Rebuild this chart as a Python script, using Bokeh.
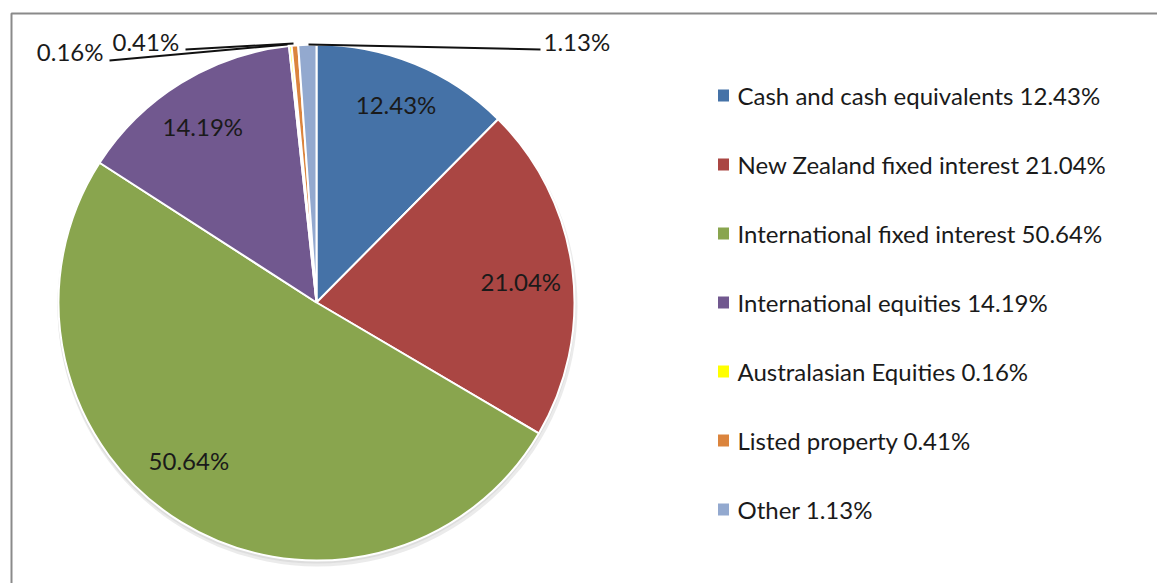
import numpy as np
from bokeh.plotting import figure
from bokeh.models import Range1d, ColumnDataSource
from bokeh.embed import file_html
from bokeh.resources import INLINE
from bokeh.core.properties import value

categories = ["Cash and cash equivalents", "New Zealand fixed interest",
              "International fixed interest", "International equities",
              "Australasian Equities ", "Listed property", "Other"]
shares = [12.43, 21.04, 50.64, 14.19, 0.16, 0.41, 1.13]
colors = ["#4572A7", "#AA4643", "#89A54E", "#71588F", "#FFFF00", "#DB843D", "#93A9CF"]

W, H = 1157, 583
FONT = "Lato"
FS = "24px"
TXT = "#1a1a1a"

def fy(y):
    return H - y

p = figure(width=W, height=H, x_range=Range1d(0, W), y_range=Range1d(0, H),
           output_backend="svg", toolbar_location=None, min_border=0,
           x_axis_location=None, y_axis_location=None)
p.grid.visible = False
p.outline_line_color = None
p.background_fill_color = "white"
p.border_fill_color = "white"

# chart area frame
p.line(x=[11, 11, W + 5], y=[-5, fy(13), fy(13)], line_color="#8a8a8a", line_width=2)

cx, cy, R = 316, fy(302), 258

sh = np.array(shares, dtype=float)
cum_end = np.cumsum(sh) / sh.sum()
cum_start = cum_end - sh / sh.sum()
start_angle = np.pi / 2 - 2 * np.pi * cum_end
end_angle = np.pi / 2 - 2 * np.pi * cum_start
mid = (start_angle + end_angle) / 2

src = ColumnDataSource(dict(start=start_angle, end=end_angle, color=colors,
                            cat=categories, share=shares))

# soft shadow
p.circle(x=cx + 1, y=cy - 4, radius=R + 2, fill_color="#bdbdbd", fill_alpha=0.3, line_color=None)
p.circle(x=cx, y=cy - 2, radius=R + 1, fill_color="#d0d0d0", fill_alpha=0.5, line_color=None)

p.wedge(x=cx, y=cy, radius=R, start_angle="start", end_angle="end",
        direction="anticlock", fill_color="color", line_color="white",
        line_width=2, source=src)

# inside labels for the large slices (best-fit nudges in screen px)
big = [i for i in range(len(shares)) if shares[i] > 5]
nudge = {0: (0, 5), 1: (-3, -6), 2: (-18, 20), 3: (-4, -2)}
rl = 0.81 * R
p.text(x=[cx + rl * np.cos(mid[i]) + nudge[i][0] for i in big],
       y=[cy + rl * np.sin(mid[i]) + nudge[i][1] for i in big],
       text=["%.2f%%" % shares[i] for i in big],
       text_align="center", text_baseline="middle",
       text_font=value(FONT), text_font_size=FS, text_color=TXT)

# outside labels for the small slices (manually placed with leader lines)
small_pos = {4: (103, 51, "right"), 5: (112, 41, "left"), 6: (543, 41, "left")}
lines = {4: ([109, 287], [60, 44]), 5: ([185, 293], [49, 43]), 6: ([308, 540], [44, 49])}
for i, (lx, ly, al) in small_pos.items():
    xs, ys = lines[i]
    p.line(x=xs, y=[fy(v) for v in ys], line_color="#111111", line_width=2)
    p.text(x=[lx], y=[fy(ly)], text=["%.2f%%" % shares[i]], text_align=al,
           text_baseline="middle", text_font=value(FONT), text_font_size=FS,
           text_color=TXT)

# legend
n = len(categories)
leg_y = [fy(95 + 69 * k) for k in range(n)]
p.rect(x=[723] * n, y=leg_y, width=11, height=12, fill_color=colors, line_color=None)
p.text(x=[737] * n, y=leg_y,
       text=["%s %.2f%%" % (c, s) for c, s in zip(categories, shares)],
       text_align="left", text_baseline="middle",
       text_font=value(FONT), text_font_size=FS, text_color=TXT)

open("out.html", "w").write(file_html(p, INLINE))
